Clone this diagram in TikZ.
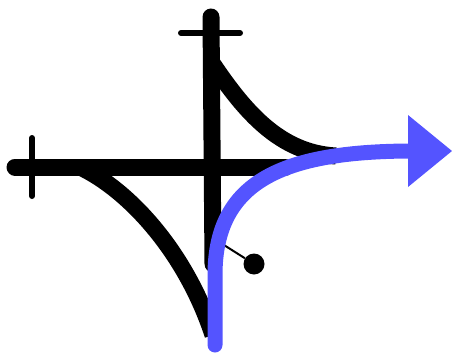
\documentclass[tikz,border=0pt]{standalone}
\usepackage{xcolor}
\usepackage{tikz}
\usetikzlibrary{arrows.meta}

\definecolor{flowblue}{RGB}{84,84,255}

\begin{document}
\begin{tikzpicture}[
  x=1pt, y=-1pt,
  axis/.style={draw, line width=17pt, line cap=round},
  tickmark/.style={draw, line width=6pt, line cap=round},
  branch/.style={draw, line width=17pt},
  pin/.style={draw, line width=2pt},
  flow/.style={draw=flowblue, line width=15pt, line cap=round,
    -{Triangle[length=44pt, width=72pt, line width=0pt, round=false]}}
]
\useasboundingbox (0,0) rectangle (452,361);

\coordinate (vtop) at (211,17);
\coordinate (vbot) at (213,264);
\coordinate (hleft) at (15,167);
\coordinate (hright) at (285,167);
\coordinate (ttl) at (181,33);
\coordinate (ttr) at (240,33);
\coordinate (ltt) at (32,138);
\coordinate (ltb) at (32,196);
\coordinate (ustart) at (212,63);
\coordinate (uend) at (336,156);
\coordinate (lstart) at (80,167);
\coordinate (lend) at (213,335);
\coordinate (pinfoot) at (216,240);
\coordinate (fstart) at (215,345);
\coordinate (fbend) at (215,275);
\coordinate (fend) at (452,151);

\draw[axis] (vtop) -- (vbot);
\draw[axis] (hleft) -- (hright);
\draw[tickmark] (ttl) -- (ttr);
\draw[tickmark] (ltt) -- (ltb);

\draw[branch] (ustart) .. controls (245,112) and (280,153) .. (uend);
\draw[branch] (lstart) .. controls (127,189) and (185,250) .. (lend);

\node[circle, fill, inner sep=0pt, minimum size=21pt] (knob) at (254,264) {};
\draw[pin] (pinfoot) -- (knob);

\draw[flow] (fstart) -- (fbend) .. controls (215,180) and (285,152) .. (408,151) -- (fend);

\end{tikzpicture}
\end{document}
